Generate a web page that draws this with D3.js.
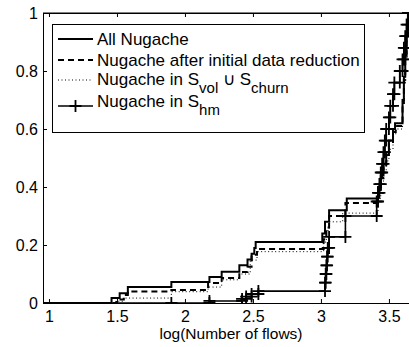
<!DOCTYPE html>
<html><head><meta charset="utf-8">
<script src="https://cdn.jsdelivr.net/npm/d3@7"></script>
<style>
html,body{margin:0;padding:0;background:#fff;}
svg{display:block;font-family:"Liberation Sans",Arial,sans-serif;}
</style></head>
<body><svg id="c" width="409" height="347"></svg>
<script>
// x = log10(number of flows), y = CDF
const allNugache = [[0.956,0],[1.46,0.017],[1.52,0.034],[1.58,0.055],[1.90,0.072],[2.18,0.09],[2.27,0.108],[2.40,0.13],[2.46,0.15],[2.49,0.17],[2.51,0.19],[2.52,0.21],[3.01,0.24],[3.03,0.28],[3.06,0.32],[3.19,0.36],[3.42,0.40],[3.44,0.44],[3.46,0.48],[3.48,0.52],[3.50,0.56],[3.53,0.60],[3.545,0.62],[3.60,0.70],[3.61,0.78],[3.62,0.86],[3.63,0.93],[3.64,1.0],[3.70,1.0]];
const afterReduction = [[0.956,0],[1.50,0.012],[1.55,0.028],[1.58,0.04],[1.90,0.045],[2.17,0.069],[2.27,0.086],[2.40,0.107],[2.46,0.125],[2.49,0.166],[2.53,0.186],[3.02,0.22],[3.04,0.26],[3.06,0.30],[3.18,0.345],[3.42,0.39],[3.44,0.43],[3.46,0.47],[3.48,0.51],[3.50,0.55],[3.53,0.59],[3.55,0.61],[3.60,0.69],[3.61,0.77],[3.62,0.85],[3.63,0.92],[3.64,1.0],[3.70,1.0]];
const volChurn = [[0.956,0],[1.49,0.006],[1.55,0.017],[1.90,0.039],[2.17,0.055],[2.27,0.08],[2.40,0.10],[2.48,0.148],[2.53,0.177],[3.02,0.21],[3.04,0.25],[3.06,0.28],[3.16,0.31],[3.42,0.36],[3.44,0.41],[3.46,0.45],[3.48,0.49],[3.50,0.53],[3.53,0.58],[3.55,0.60],[3.60,0.68],[3.61,0.76],[3.62,0.84],[3.63,0.91],[3.64,1.0],[3.70,1.0]];
const hm = [[1.90,0.0],[2.18,0.007],[2.42,0.014],[2.45,0.022],[2.49,0.031],[2.54,0.041],[3.03,0.07],[3.035,0.10],[3.04,0.13],[3.045,0.16],[3.05,0.19],[3.06,0.228],[3.18,0.30],[3.41,0.35],[3.42,0.38],[3.43,0.41],[3.44,0.45],[3.45,0.48],[3.46,0.52],[3.47,0.56],[3.48,0.60],[3.50,0.64],[3.51,0.68],[3.53,0.72],[3.54,0.76],[3.58,0.80],[3.60,0.84],[3.61,0.88],[3.62,0.92],[3.63,0.96],[3.64,1.0]];
const xTicks = [1,1.5,2,2.5,3,3.5];
const yTicks = [0,0.2,0.4,0.6,0.8,1];
const xLabel = "log(Number of flows)";

const svg = d3.select("#c");
const x = d3.scaleLinear().domain([0.956,3.655]).range([43,410]);
const y = d3.scaleLinear().domain([0,1]).range([303,13]);

const clip = svg.append("defs").append("clipPath").attr("id","pc");
clip.append("rect").attr("x",43).attr("y",12).attr("width",367).attr("height",292);

const line = d3.line().x(d=>x(d[0])).y(d=>y(d[1])).curve(d3.curveStepAfter);
const g = svg.append("g").attr("clip-path","url(#pc)");

g.append("path").datum(allNugache).attr("d",line).attr("fill","none").attr("stroke","#000").attr("stroke-width",2);
g.append("path").datum(afterReduction).attr("d",line).attr("fill","none").attr("stroke","#000").attr("stroke-width",2).attr("stroke-dasharray","6,4");
g.append("path").datum(volChurn).attr("d",line).attr("fill","none").attr("stroke","#000").attr("stroke-width",1).attr("stroke-dasharray","1,2.5");
g.append("path").datum([[0.956,0]].concat(hm)).attr("d",line).attr("fill","none").attr("stroke","#000").attr("stroke-width",1.6);

// plus markers at step corners
const pts = [];
hm.forEach((d,i)=>{ pts.push(d); if(i+1<hm.length) pts.push([hm[i+1][0], d[1]]); });
const ms = 6;
g.selectAll("path.mk").data(pts).join("path").attr("class","mk")
  .attr("d",d=>{const cx=x(d[0]),cy=y(d[1]);return `M${cx-ms},${cy}H${cx+ms}M${cx},${cy-ms}V${cy+ms}`;})
  .attr("stroke","#000").attr("stroke-width",1.8).attr("fill","none");

// axes
const fs = 16;
const xa = svg.append("g").attr("transform","translate(0,303)")
  .call(d3.axisBottom(x).tickValues(xTicks).tickFormat(d3.format("")).tickSizeInner(-4).tickSizeOuter(0).tickPadding(8));
const ya = svg.append("g").attr("transform","translate(43,0)")
  .call(d3.axisLeft(y).tickValues(yTicks).tickFormat(d3.format("")).tickSizeInner(-4).tickSizeOuter(0).tickPadding(5));
const xt = svg.append("g").attr("transform","translate(0,13)")
  .call(d3.axisTop(x).tickValues(xTicks).tickFormat("").tickSizeInner(-4).tickSizeOuter(0));
[xa,ya,xt].forEach(a=>{a.selectAll("text").attr("font-size",fs).attr("font-family","Liberation Sans, Arial, sans-serif").attr("fill","#000");a.select(".domain").attr("stroke","#000");a.selectAll(".tick line").attr("stroke","#000");});
svg.append("path").attr("d","M43,13H409").attr("stroke","#000").attr("fill","none");

svg.append("text").attr("x",231).attr("y",339).attr("text-anchor","middle").attr("font-size",15.5).text(xLabel);

// legend
const lg = svg.append("g");
lg.append("rect").attr("x",52.5).attr("y",24.5).attr("width",312).attr("height",108).attr("fill","#fff").attr("stroke","#000");
const lx0=58, lx1=93, tx=97, lfs=17;
const rows=[39,60,80,106];
lg.append("path").attr("d",`M${lx0},${rows[0]}H${lx1}`).attr("stroke","#000").attr("stroke-width",2);
lg.append("path").attr("d",`M${lx0},${rows[1]}H${lx1}`).attr("stroke","#000").attr("stroke-width",2).attr("stroke-dasharray","6,4");
lg.append("path").attr("d",`M${lx0},${rows[2]}H${lx1}`).attr("stroke","#000").attr("stroke-width",1).attr("stroke-dasharray","1,2.5");
lg.append("path").attr("d",`M${lx0},${rows[3]}H${lx1}`).attr("stroke","#000").attr("stroke-width",1.6);
const mx=(lx0+lx1)/2;
lg.append("path").attr("d",`M${mx-ms},${rows[3]}H${mx+ms}M${mx},${rows[3]-ms}V${rows[3]+ms}`).attr("stroke","#000").attr("stroke-width",1.8);

const t1=lg.append("text").attr("x",tx).attr("y",rows[0]+6).attr("font-size",lfs).text("All Nugache");
const t2=lg.append("text").attr("x",tx).attr("y",rows[1]+6).attr("font-size",lfs).text("Nugache after initial data reduction");
const t3=lg.append("text").attr("x",tx).attr("y",rows[2]+5).attr("font-size",lfs);
t3.append("tspan").text("Nugache in S");
t3.append("tspan").attr("dy",8).attr("font-size",lfs-2).text("vol");
t3.append("tspan").attr("dy",-8).text(" \u222A S");
t3.append("tspan").attr("dy",8).attr("font-size",lfs-2).text("churn");
const t4=lg.append("text").attr("x",tx).attr("y",rows[3]+1).attr("font-size",lfs);
t4.append("tspan").text("Nugache in S");
t4.append("tspan").attr("dy",8).attr("font-size",lfs-2).text("hm");
</script></body></html>
